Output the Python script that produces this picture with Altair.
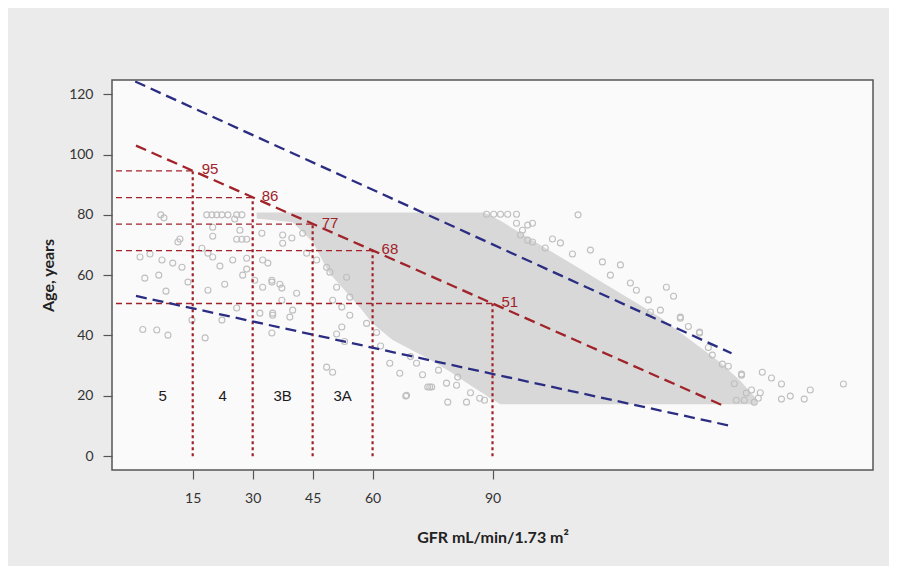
import altair as alt
import pandas as pd

# ---------------- data ----------------
# reference GFR cut points and the predicted age on the central line
ref_gfr = [15, 30, 45, 60, 90]
ref_age = [94.6, 85.7, 76.9, 68.1, 50.6]
ref_lab = ["95", "86", "77", "68", "51"]
ref_start = -4.2

# CKD stage labels
stage_x = [7.5, 22.5, 37.5, 52.5]
stage_y = [20, 20, 20, 20]
stage_lab = ["5", "4", "3B", "3A"]

# fitted line and its limits (end points)
mean_x = [0.8, 148.4]
mean_y = [102.95, 16.35]
upper_x = [0.6, 149.8]
upper_y = [124.2, 34.1]
lower_x = [0.8, 149.8]
lower_y = [53.1, 9.95]

# dense core of the scatter cloud: GFR, upper age, lower age
dense_x = [31, 40, 45, 49, 53, 57, 60, 65, 70, 75, 80, 85, 88, 89, 92, 97, 102,
           107, 112, 117, 122, 127, 132, 137, 142, 147, 152, 156]
dense_hi = [80.8, 80.8, 80.8, 80.8, 80.8, 80.8, 80.8, 80.8, 80.8, 80.8, 80.8, 80.8,
            80.8, 80.0, 78, 74, 70, 66, 62, 58, 54, 50, 46, 41, 36, 31, 25, 19]
dense_lo = [78.8, 77.5, 71, 61, 55, 49, 44, 38.5, 35, 31.5, 27.5, 23, 20.5, 19.5,
            17.2, 17.2, 17.2, 17.2, 17.2, 17.2, 17.2, 17.2, 17.2, 17.2, 17.2, 17.2,
            17.2, 17.2]

# individual (sparser) observations
pts_gfr = [
    7.0, 7.8, 11.8, 11.3, 1.8, 4.3, 7.3, 10.0, 12.3, 3.0, 6.5, 8.3, 13.8, 17.3, 18.8,
    20.0, 18.8, 18.5, 19.8, 21.0, 22.3, 23.8, 26.0, 27.3, 20.0, 20.0, 21.8, 23.0, 25.5,
    26.8, 26.0, 27.3, 28.5, 28.5, 25.0, 27.5, 28.5, 30.5, 32.5, 34.8, 36.8, 37.3, 35.0,
    26.0, 22.3, 14.8, 6.0, 8.8, 31.8, 34.8, 32.3, 32.5, 33.8, 34.8, 37.3, 37.5, 37.5,
    39.8, 42.5, 43.5, 41.0, 40.0, 46.0, 48.5, 49.3, 51.0, 53.5, 54.3, 50.0, 52.3, 54.3,
    39.3, 35.0, 18.1, 2.5,
    52.3, 48.5, 50.0, 68.5, 74.3, 64.3, 66.8, 71.0, 78.5, 81.3, 68.3, 73.8, 74.8, 78.8,
    81.0, 83.5, 86.8, 51.0, 53.0, 58.5, 62.0, 69.5, 76.5, 84.5, 88.0, 61.0, 72.5,
    88.5, 90.3, 92.0, 93.8, 96.0, 96.0, 97.5, 98.8, 100.0, 97.0, 98.8, 100.0, 111.4,
    103.2, 107.0, 114.5, 117.5, 122.0, 119.5, 124.5, 129.0, 132.0, 105.0, 110.0, 126.0,
    137.0, 141.8, 149.0, 152.3, 157.5, 159.8, 162.3, 162.3, 164.5, 168.0, 169.5, 177.8,
    155.5, 154.8, 153.5, 133.5, 135.3, 137.0, 141.8, 152.3, 151.0, 153.0, 156.5, 157.0,
    129.5, 145.0, 147.5, 150.5, 144.0, 139.0,
]
pts_age = [
    80.0, 79.0, 72.0, 71.0, 66.0, 67.0, 65.0, 64.0, 62.6, 59.0, 60.0, 54.7, 57.7, 68.9,
    67.3, 66.0, 55.0, 80.0, 80.0, 80.0, 80.0, 80.0, 80.0, 80.0, 75.9, 72.9, 63.0, 57.0,
    78.6, 74.9, 71.9, 71.9, 71.9, 65.6, 65.0, 60.0, 62.0, 58.3, 56.0, 57.7, 57.0, 51.7,
    47.4, 49.1, 45.1, 45.1, 41.8, 40.1, 47.4, 40.8, 73.9, 65.0, 64.0, 58.3, 55.7, 73.3,
    70.6, 72.3, 73.9, 67.3, 54.0, 48.4, 65.0, 62.6, 61.0, 56.0, 59.3, 52.7, 51.7, 49.4,
    46.7, 46.1, 46.7, 39.2, 42.0,
    42.8, 29.5, 27.8, 20.2, 22.9, 30.8, 27.5, 30.8, 24.2, 26.2, 19.9, 22.9, 22.9, 17.9,
    23.5, 17.9, 19.2, 40.5, 38.0, 44.0, 36.5, 33.0, 28.5, 21.0, 18.5, 41.0, 27.0,
    80.2, 80.2, 80.2, 80.2, 80.2, 77.2, 74.9, 76.6, 77.2, 73.3, 71.6, 71.0, 80.0,
    69.0, 70.7, 68.3, 64.4, 63.4, 60.0, 57.4, 51.8, 48.4, 72.0, 67.0, 55.0,
    46.1, 40.8, 29.8, 26.8, 27.8, 25.9, 23.9, 18.9, 19.9, 18.9, 21.9, 23.9,
    17.9, 21.9, 20.9, 56.0, 53.0, 45.7, 41.1, 27.2, 18.5, 18.5, 19.2, 21.0,
    47.8, 33.5, 30.5, 24.0, 36.0, 43.0,
]

x_ticks = [15, 30, 45, 60, 90]
y_ticks = [0, 20, 40, 60, 80, 100, 120]

# ---------------- tables ----------------
dense_df = pd.DataFrame({"gfr": dense_x, "hi": dense_hi, "lo": dense_lo})
pts_df = pd.DataFrame({"gfr": pts_gfr, "age": pts_age})
ref_df = pd.DataFrame({"gfr": ref_gfr, "age": ref_age, "lab": ref_lab,
                       "start": [ref_start] * len(ref_gfr), "zero": [0] * len(ref_gfr)})
stage_df = pd.DataFrame({"gfr": stage_x, "age": stage_y, "lab": stage_lab})
lines_df = pd.DataFrame({
    "gfr": mean_x + upper_x + lower_x,
    "age": mean_y + upper_y + lower_y,
    "grp": ["mean"] * 2 + ["upper"] * 2 + ["lower"] * 2,
})

RED = "#a0232a"
BLUE = "#2b2d82"
XT = "GFR mL/min/1.73 m²"
YT = "Age, years"

xs = alt.Scale(domain=[-5.2, 185.2], nice=False, zero=False)
ys = alt.Scale(domain=[-4.6, 124.7], nice=False, zero=False)

xaxis = alt.Axis(values=x_ticks, domain=False, grid=False, tickSize=9, tickWidth=1.2,
                 tickColor="#555555", labelFontSize=14, labelColor="#333333",
                 labelPadding=12, labelFont="Lato", titleFont="Lato", titleFontSize=16,
                 titleFontWeight="bold", titleColor="#222222", titlePadding=24)
yaxis = alt.Axis(values=y_ticks, domain=False, grid=False, tickSize=9, tickWidth=1.2,
                 tickColor="#555555", labelFontSize=14, labelColor="#333333",
                 labelPadding=10, labelFont="Lato", titleFont="Lato", titleFontSize=16,
                 titleFontWeight="bold", titleColor="#222222", titlePadding=12)


def X(f):
    return alt.X(f, type="quantitative", scale=xs, axis=xaxis, title=XT)


def Y(f):
    return alt.Y(f, type="quantitative", scale=ys, axis=yaxis, title=YT)


dense = alt.Chart(dense_df).mark_area(color="#d8d8d8", clip=True).encode(
    x=X("gfr"), y=Y("hi"), y2="lo:Q")

points = alt.Chart(pts_df).mark_point(shape="circle", filled=False, size=36,
                                      strokeWidth=1.1, color="#bfbfbf", opacity=1,
                                      clip=True).encode(x=X("gfr"), y=Y("age"))

hlines = alt.Chart(ref_df).mark_rule(color=RED, strokeWidth=1.3, strokeDash=[6, 4]).encode(
    x=X("start"), x2="gfr:Q", y=Y("age"))

vlines = alt.Chart(ref_df).mark_rule(color=RED, strokeWidth=2.2, strokeDash=[3, 3]).encode(
    x=X("gfr"), y=Y("zero"), y2="age:Q")

mean_line = alt.Chart(lines_df).transform_filter(alt.datum.grp == "mean").mark_line(
    color=RED, strokeWidth=2.3, strokeDash=[11, 6], clip=True).encode(
    x=X("gfr"), y=Y("age"))

band_lines = alt.Chart(lines_df).transform_filter(alt.datum.grp != "mean").mark_line(
    color=BLUE, strokeWidth=2.3, strokeDash=[11, 6], clip=True).encode(
    x=X("gfr"), y=Y("age"), detail="grp:N")

ref_text = alt.Chart(ref_df).mark_text(align="left", baseline="middle", dx=9, dy=-1.5,
                                       fontSize=15, font="Liberation Sans",
                                       color=RED).encode(x=X("gfr"), y=Y("age"), text="lab:N")

stage_text = alt.Chart(stage_df).mark_text(align="center", baseline="middle", fontSize=15,
                                           font="Liberation Sans", color="#1a1a1a").encode(
    x=X("gfr"), y=Y("age"), text="lab:N")

chart = alt.layer(dense, points, hlines, vlines, band_lines, mean_line, ref_text,
                  stage_text).properties(
    width=761, height=390,
    autosize=alt.AutoSizeParams(type="none"),
    padding={"left": 104, "top": 72, "right": 16, "bottom": 96},
    background="#ebebeb",
).configure_view(fill="#fafafa", stroke="#555555", strokeWidth=1.5)

chart.save("out.html", embed_options={"renderer": "svg", "actions": False})
